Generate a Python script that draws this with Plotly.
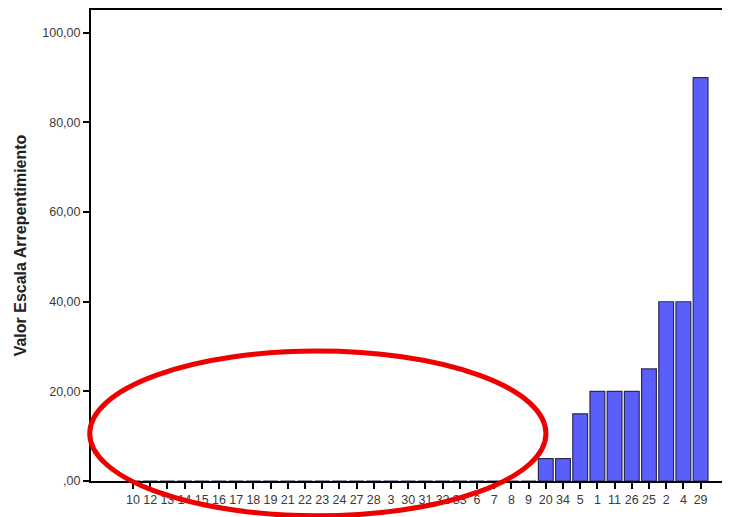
import plotly.graph_objects as go

categories = ["10", "12", "13", "14", "15", "16", "17", "18", "19", "21", "22", "23",
              "24", "27", "28", "3", "30", "31", "32", "33", "6", "7", "8", "9",
              "20", "34", "5", "1", "11", "26", "25", "2", "4", "29"]
values = [0, 0, 0, 0, 0, 0, 0, 0, 0, 0, 0, 0,
          0, 0, 0, 0, 0, 0, 0, 0, 0, 0, 0, 0,
          5, 5, 15, 20, 20, 20, 25, 40, 40, 90]
y_ticks = [0, 20, 40, 60, 80, 100]
y_tick_labels = [",00", "20,00", "40,00", "60,00", "80,00", "100,00"]

fig = go.Figure()
fig.add_trace(go.Bar(
    x=categories, y=values,
    marker=dict(color="#5a5ffc", line=dict(color="#2a2a55", width=1.2)),
    width=0.86,
))

# red ellipse highlighting the zero-valued cases (annotation overlay, not data)
fig.add_shape(type="circle", xref="paper", yref="paper",
              x0=-0.002, x1=0.712, y0=-0.074, y1=0.276,
              line=dict(color="#ee0000", width=5), layer="above")

# page body has an 8px default margin, so the figure is sized/offset to compensate
fig.update_layout(
    width=722, height=509,
    margin=dict(l=83, r=0, t=2, b=36, autoexpand=False),
    paper_bgcolor="white", plot_bgcolor="white",
    showlegend=False,
    font=dict(family="Liberation Sans, Arial", size=12.5, color="#3a3a3a"),
)
fig.update_xaxes(
    type="category", categoryorder="array", categoryarray=categories,
    range=[-2.44, 34.71], automargin=False,
    showline=True, linecolor="black", linewidth=2, mirror=True,
    ticks="outside", ticklen=6, tickcolor="black", tickwidth=1.5,
    tickfont=dict(size=12.5, color="#3a3a3a"), tickangle=0,
    showgrid=False, zeroline=False,
)
fig.update_yaxes(
    range=[0, 105.1], automargin=False,
    tickvals=y_ticks, ticktext=y_tick_labels,
    showline=True, linecolor="black", linewidth=2,
    ticks="outside", ticklen=6, tickcolor="black", tickwidth=1.5,
    tickfont=dict(size=12.5, color="#3a3a3a"),
    showgrid=False, zeroline=False,
    title=dict(text="<b>Valor Escala Arrepentimiento</b>",
               font=dict(size=16, color="#222222"), standoff=12),
)

fig.write_html("out.html")
